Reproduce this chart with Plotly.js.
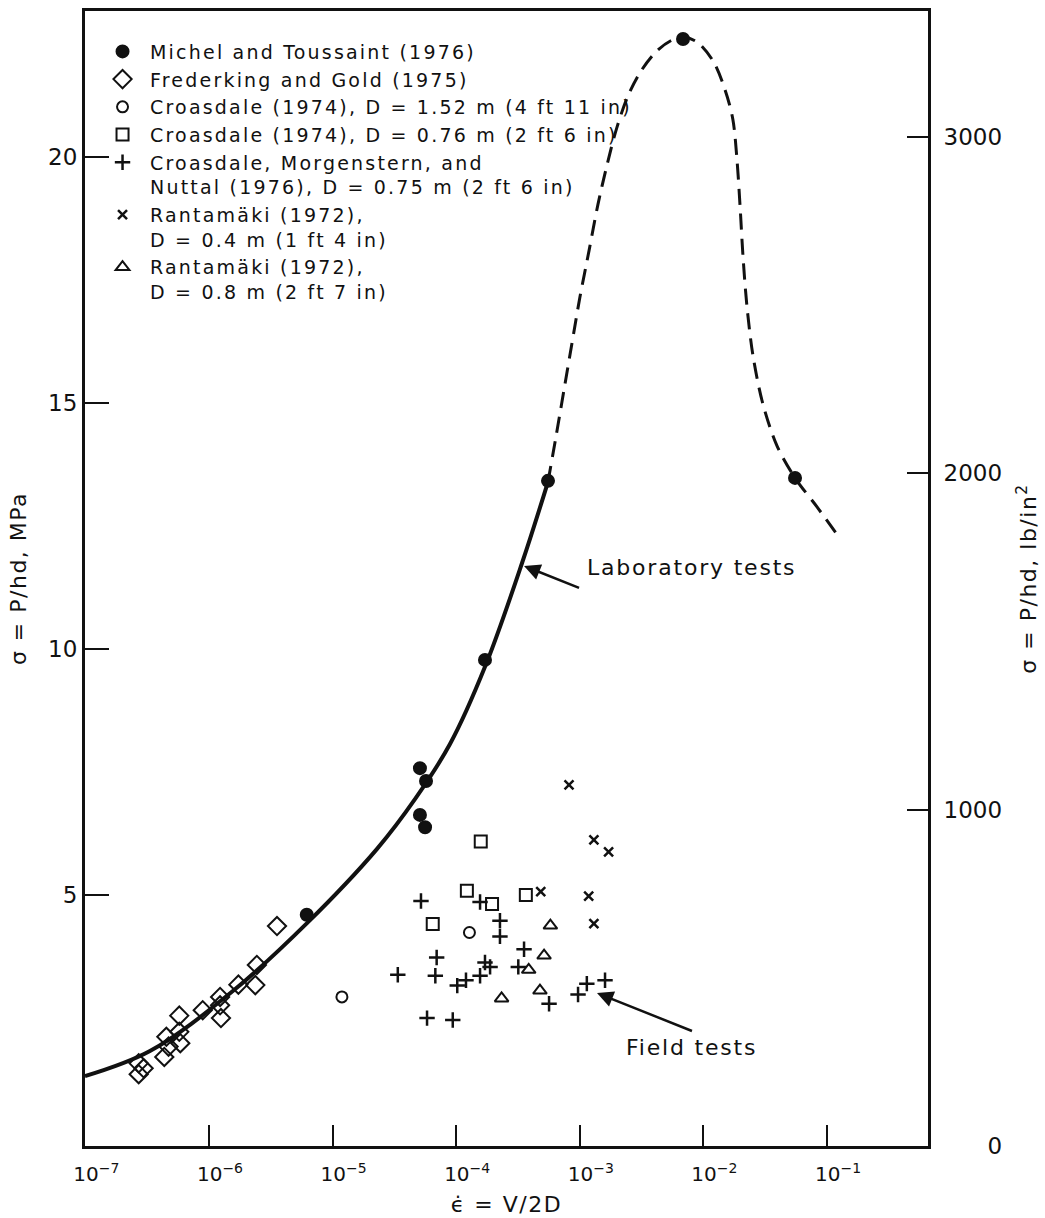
<!DOCTYPE html>
<html><head><meta charset="utf-8">
<script src="https://cdn.plot.ly/plotly-3.0.1.min.js"></script>
<style>
html,body{margin:0;padding:0;background:#fff}
.legendtext{letter-spacing:2.2px}
.annotation-text{letter-spacing:1.8px}
.g-ytitle text,.g-y2title text,.g-xtitle text{letter-spacing:1.5px}
</style>
</head><body>
<div id="chart" style="width:1045px;height:1218px"></div>
<script>
// ---- data (strain rate, stress in MPa) ----
const michelX = [6.18e-6, 5.09e-5, 5.70e-5, 5.09e-5, 5.60e-5, 1.71e-4, 5.53e-4, 6.84e-3, 5.51e-2];
const michelY = [4.60, 7.58, 7.32, 6.63, 6.38, 9.78, 13.42, 22.40, 13.48];

const frederkingX = [3.55e-6, 2.44e-6, 2.37e-6, 1.73e-6, 1.23e-6, 1.23e-6, 1.25e-6, 8.9e-7, 5.75e-7, 5.75e-7, 5.86e-7, 4.52e-7, 4.71e-7, 4.35e-7, 2.96e-7, 2.70e-7, 2.70e-7];
const frederkingY = [4.37, 3.58, 3.17, 3.18, 2.93, 2.76, 2.50, 2.66, 2.55, 2.22, 1.99, 2.12, 1.92, 1.71, 1.48, 1.58, 1.36];

const croasdale152X = [1.19e-5, 1.28e-4];
const croasdale152Y = [2.93, 4.24];

const croasdale076X = [1.58e-4, 1.22e-4, 1.95e-4, 3.66e-4, 6.46e-5];
const croasdale076Y = [6.09, 5.09, 4.82, 5.00, 4.41];

const cmnX = [5.19e-5, 1.56e-4, 2.26e-4, 2.26e-4, 3.54e-4, 6.95e-5, 6.78e-5, 3.37e-5, 1.02e-4, 1.20e-4, 1.56e-4, 1.71e-4, 1.88e-4, 3.18e-4, 5.64e-4, 1.14e-3, 1.60e-3, 9.68e-4, 5.81e-5, 9.38e-5];
const cmnY = [4.88, 4.86, 4.48, 4.16, 3.90, 3.73, 3.36, 3.38, 3.16, 3.27, 3.36, 3.63, 3.54, 3.54, 2.79, 3.20, 3.27, 2.98, 2.50, 2.46];

const rant04X = [1.30e-3, 1.71e-3, 4.83e-4, 1.18e-3, 1.30e-3, 8.18e-4];
const rant04Y = [6.12, 5.88, 5.07, 4.98, 4.42, 7.24];

const rant08X = [5.78e-4, 5.14e-4, 3.86e-4, 4.76e-4, 2.33e-4];
const rant08Y = [4.38, 3.77, 3.48, 3.06, 2.90];

// fitted laboratory curve (solid) and its extrapolation (dashed)
const labCurveX = [9.93e-8, 3.33e-7, 1.56e-6, 6.21e-6, 2.29e-5, 4.64e-5, 8.91e-5, 1.71e-4, 3.41e-4, 5.53e-4];
const labCurveY = [1.32, 1.83, 3.05, 4.43, 5.94, 6.95, 8.07, 9.64, 11.75, 13.40];

const extCurveX = [5.53e-4, 6.43e-4, 7.45e-4, 8.65e-4, 1.00e-3, 1.19e-3, 1.40e-3, 1.66e-3, 2.00e-3, 2.45e-3, 3.13e-3, 4.21e-3, 5.57e-3, 6.84e-3, 8.87e-3, 1.20e-2, 1.50e-2, 1.73e-2, 1.87e-2, 1.98e-2, 2.09e-2, 2.25e-2, 2.52e-2, 3.03e-2, 3.94e-2, 5.51e-2, 8.3e-2, 0.123];
const extCurveY = [13.40, 14.33, 15.27, 16.22, 17.14, 18.11, 19.03, 19.84, 20.61, 21.24, 21.75, 22.16, 22.38, 22.44, 22.34, 21.95, 21.36, 20.77, 19.94, 19.00, 17.99, 16.97, 15.96, 14.98, 14.13, 13.48, 12.89, 12.30];

const xTickVals = [1e-7, 1e-6, 1e-5, 1e-4, 1e-3, 1e-2, 1e-1];
const xTickText = ['10<sup>−7</sup>', '10<sup>−6</sup>', '10<sup>−5</sup>', '10<sup>−4</sup>', '10<sup>−3</sup>', '10<sup>−2</sup>', '10<sup>−1</sup>'];
const yTickVals = [5, 10, 15, 20];
const y2TickVals = [0, 1000, 2000, 3000];
const y2TickText = ['\u2007\u2007\u20070', '1000', '2000', '3000'];

const FONT = 'DejaVu Sans';
const BLACK = '#111';

function pts(name, x, y, symbol, size, lw) {
  return {
    type: 'scatter', mode: 'markers', name: name, x: x, y: y,
    marker: {symbol: symbol, size: size, color: BLACK, line: {color: BLACK, width: lw || 2}},
    hoverinfo: 'skip'
  };
}

const traces = [
  {type: 'scatter', mode: 'lines', x: labCurveX, y: labCurveY, showlegend: false,
   line: {color: BLACK, width: 4, shape: 'spline', smoothing: 1}, hoverinfo: 'skip'},
  {type: 'scatter', mode: 'lines', x: extCurveX, y: extCurveY, showlegend: false,
   line: {color: BLACK, width: 3, dash: '16px,9px', shape: 'spline', smoothing: 0.9}, hoverinfo: 'skip'},
  pts('Michel and Toussaint (1976)', michelX, michelY, 'circle', 12),
  pts('Frederking and Gold (1975)', frederkingX, frederkingY, 'diamond-open', 14),
  pts('Croasdale (1974), D = 1.52 m (4 ft 11 in)', croasdale152X, croasdale152Y, 'circle-open', 11),
  pts('Croasdale (1974), D = 0.76 m (2 ft 6 in)', croasdale076X, croasdale076Y, 'square-open', 12),
  pts('Croasdale, Morgenstern, and<br>Nuttal (1976), D = 0.75 m (2 ft 6 in)', cmnX, cmnY, 'cross-thin-open', 11, 2.5),
  pts('Rantamäki (1972),<br>D = 0.4 m (1 ft 4 in)', rant04X, rant04Y, 'x-thin-open', 9, 2.5),
  pts('Rantamäki (1972),<br>D = 0.8 m (2 ft 7 in)', rant08X, rant08Y, 'triangle-up-open', 12),
  {type: 'scatter', mode: 'markers', x: [null], y: [null], yaxis: 'y2', showlegend: false, hoverinfo: 'skip'}
];

const layout = {
  width: 1045, height: 1218,
  margin: {l: 85, r: 117, t: 11, b: 72},
  paper_bgcolor: '#fff', plot_bgcolor: '#fff',
  font: {family: FONT, color: BLACK, size: 20},
  showlegend: true,
  legend: {x: 0.0119, y: 0.981, xanchor: 'left', yanchor: 'top', bgcolor: 'rgba(0,0,0,0)',
           font: {family: FONT, size: 19, color: BLACK}, valign: 'top', tracegroupgap: 0,
           itemwidth: 45, traceorder: 'normal'},
  xaxis: {
    type: 'log', range: [-7.003, -0.183],
    tickvals: xTickVals, ticktext: xTickText,
    ticks: 'inside', ticklen: 21, tickwidth: 2, tickcolor: BLACK,
    showline: true, linewidth: 3, linecolor: BLACK, mirror: true,
    showgrid: false, zeroline: false,
    tickfont: {family: FONT, size: 20, color: BLACK},
    ticklabelshift: 11, ticklabelstandoff: 8,
    title: {text: '\u03F5\u0307 = V/2D', font: {family: FONT, size: 22, color: BLACK}, standoff: 12}
  },
  yaxis: {
    range: [-0.1, 22.97],
    tickvals: yTickVals,
    ticks: 'inside', ticklen: 24, tickwidth: 2, tickcolor: BLACK,
    showline: true, linewidth: 3, linecolor: BLACK,
    showgrid: false, zeroline: false,
    tickfont: {family: FONT, size: 23, color: BLACK},
    title: {text: 'σ = P/hd, MPa', font: {family: FONT, size: 22, color: BLACK}, standoff: 16}
  },
  yaxis2: {
    overlaying: 'y', side: 'right', anchor: 'x',
    range: [0, 3373],
    tickvals: y2TickVals, ticktext: y2TickText,
    ticks: 'inside', ticklen: 21, tickwidth: 2, tickcolor: BLACK,
    showline: true, linewidth: 3, linecolor: BLACK,
    showgrid: false, zeroline: false,
    tickfont: {family: FONT, size: 23, color: BLACK},
    ticklabelstandoff: 8,
    title: {text: 'σ = P/hd, lb/in<sup>2</sup>', font: {family: FONT, size: 22, color: BLACK}, standoff: 20}
  },
  annotations: [
    {x: -3.451, y: 11.69, xref: 'x', yref: 'y', text: 'Laboratory tests', showarrow: true,
     ax: 55, ay: 22, xanchor: 'left', yanchor: 'bottom', borderpad: 7, arrowhead: 2, arrowsize: 1.3, arrowwidth: 2.5,
     arrowcolor: BLACK, font: {family: FONT, size: 22, color: BLACK}},
    {x: -2.861, y: 3.01, xref: 'x', yref: 'y', text: 'Field tests', showarrow: true,
     ax: 95, ay: 38, xanchor: 'center', yanchor: 'top', borderpad: 3, arrowhead: 2, arrowsize: 1.3, arrowwidth: 2.5,
     arrowcolor: BLACK, font: {family: FONT, size: 22, color: BLACK}}
  ]
};

Plotly.newPlot('chart', traces, layout, {displayModeBar: false, staticPlot: true});
</script>
</body></html>
